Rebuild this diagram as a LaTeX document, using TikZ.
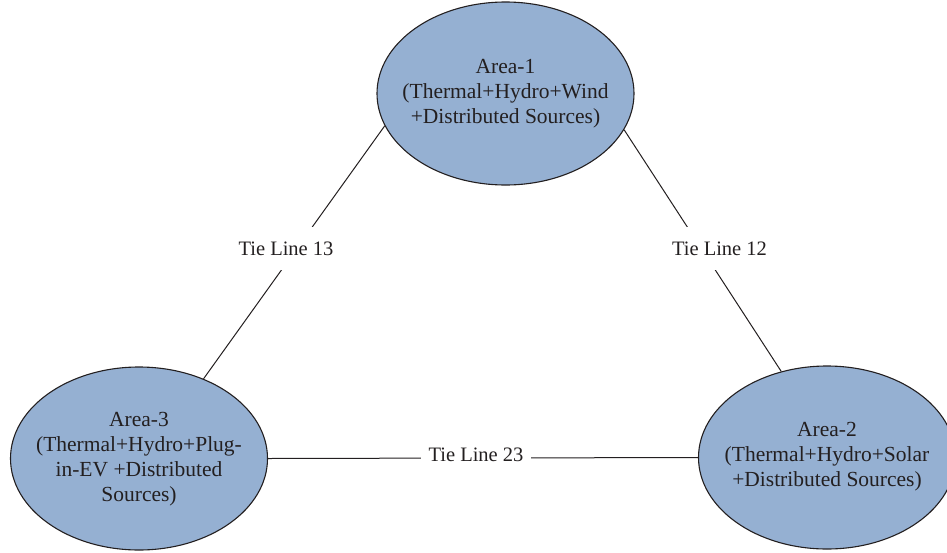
\documentclass[tikz,border=0pt]{standalone}
\usepackage{fontspec}
\setmainfont{Liberation Serif}
\usetikzlibrary{shapes.geometric}
\definecolor{areafill}{RGB}{149,176,210}
\definecolor{inkc}{RGB}{35,31,32}
\begin{document}
\begin{tikzpicture}[x=1pt,y=-1pt,
  area/.style={ellipse, draw=inkc, line width=1.1pt, fill=areafill,
    minimum width=257pt, minimum height=183pt, inner sep=0pt},
  areatext/.style={align=center, text=inkc,
    font=\fontsize{21.5}{25}\selectfont, inner sep=0pt},
  tie/.style={line width=1pt, draw=inkc},
  tielabel/.style={fill=white, text=inkc,
    font=\fontsize{20.5}{25}\selectfont, inner xsep=8pt, inner ysep=0pt,
    minimum height=43pt}]
\useasboundingbox (0,0) rectangle (947,552);
\clip (0,0) rectangle (947,552);
% areas
\node[area] (a1) at (505.5,93.5) {};
\node[area] (a3) at (139,458.5) {};
\node[area] (a2) at (827,457.5) {};
\node[areatext] (a1t) at (a1.center) {Area-1\\(Thermal+Hydro+Wind\\+Distributed Sources)};
\node[areatext] (a3t) at (139,459) {Area-3\\(Thermal+Hydro+Plug-\\in-EV +Distributed\\Sources)};
\node[areatext] (a2t) at (827,456.5) {Area-2\\(Thermal+Hydro+Solar\\+Distributed Sources)};
% tie lines
\draw[tie] (a1.195.7) -- (a3.51.9);
\draw[tie] (a1.343.9) -- (a2.118.75);
\draw[tie] (a3.east) -- (a2.west);
% labels
\node[tielabel] (t13) at (286,248.5) {Tie Line 13};
\node[tielabel] (t12) at (719.5,248.5) {Tie Line 12};
\node[tielabel] (t23) at (476,455) {Tie Line 23};
\end{tikzpicture}
\end{document}
